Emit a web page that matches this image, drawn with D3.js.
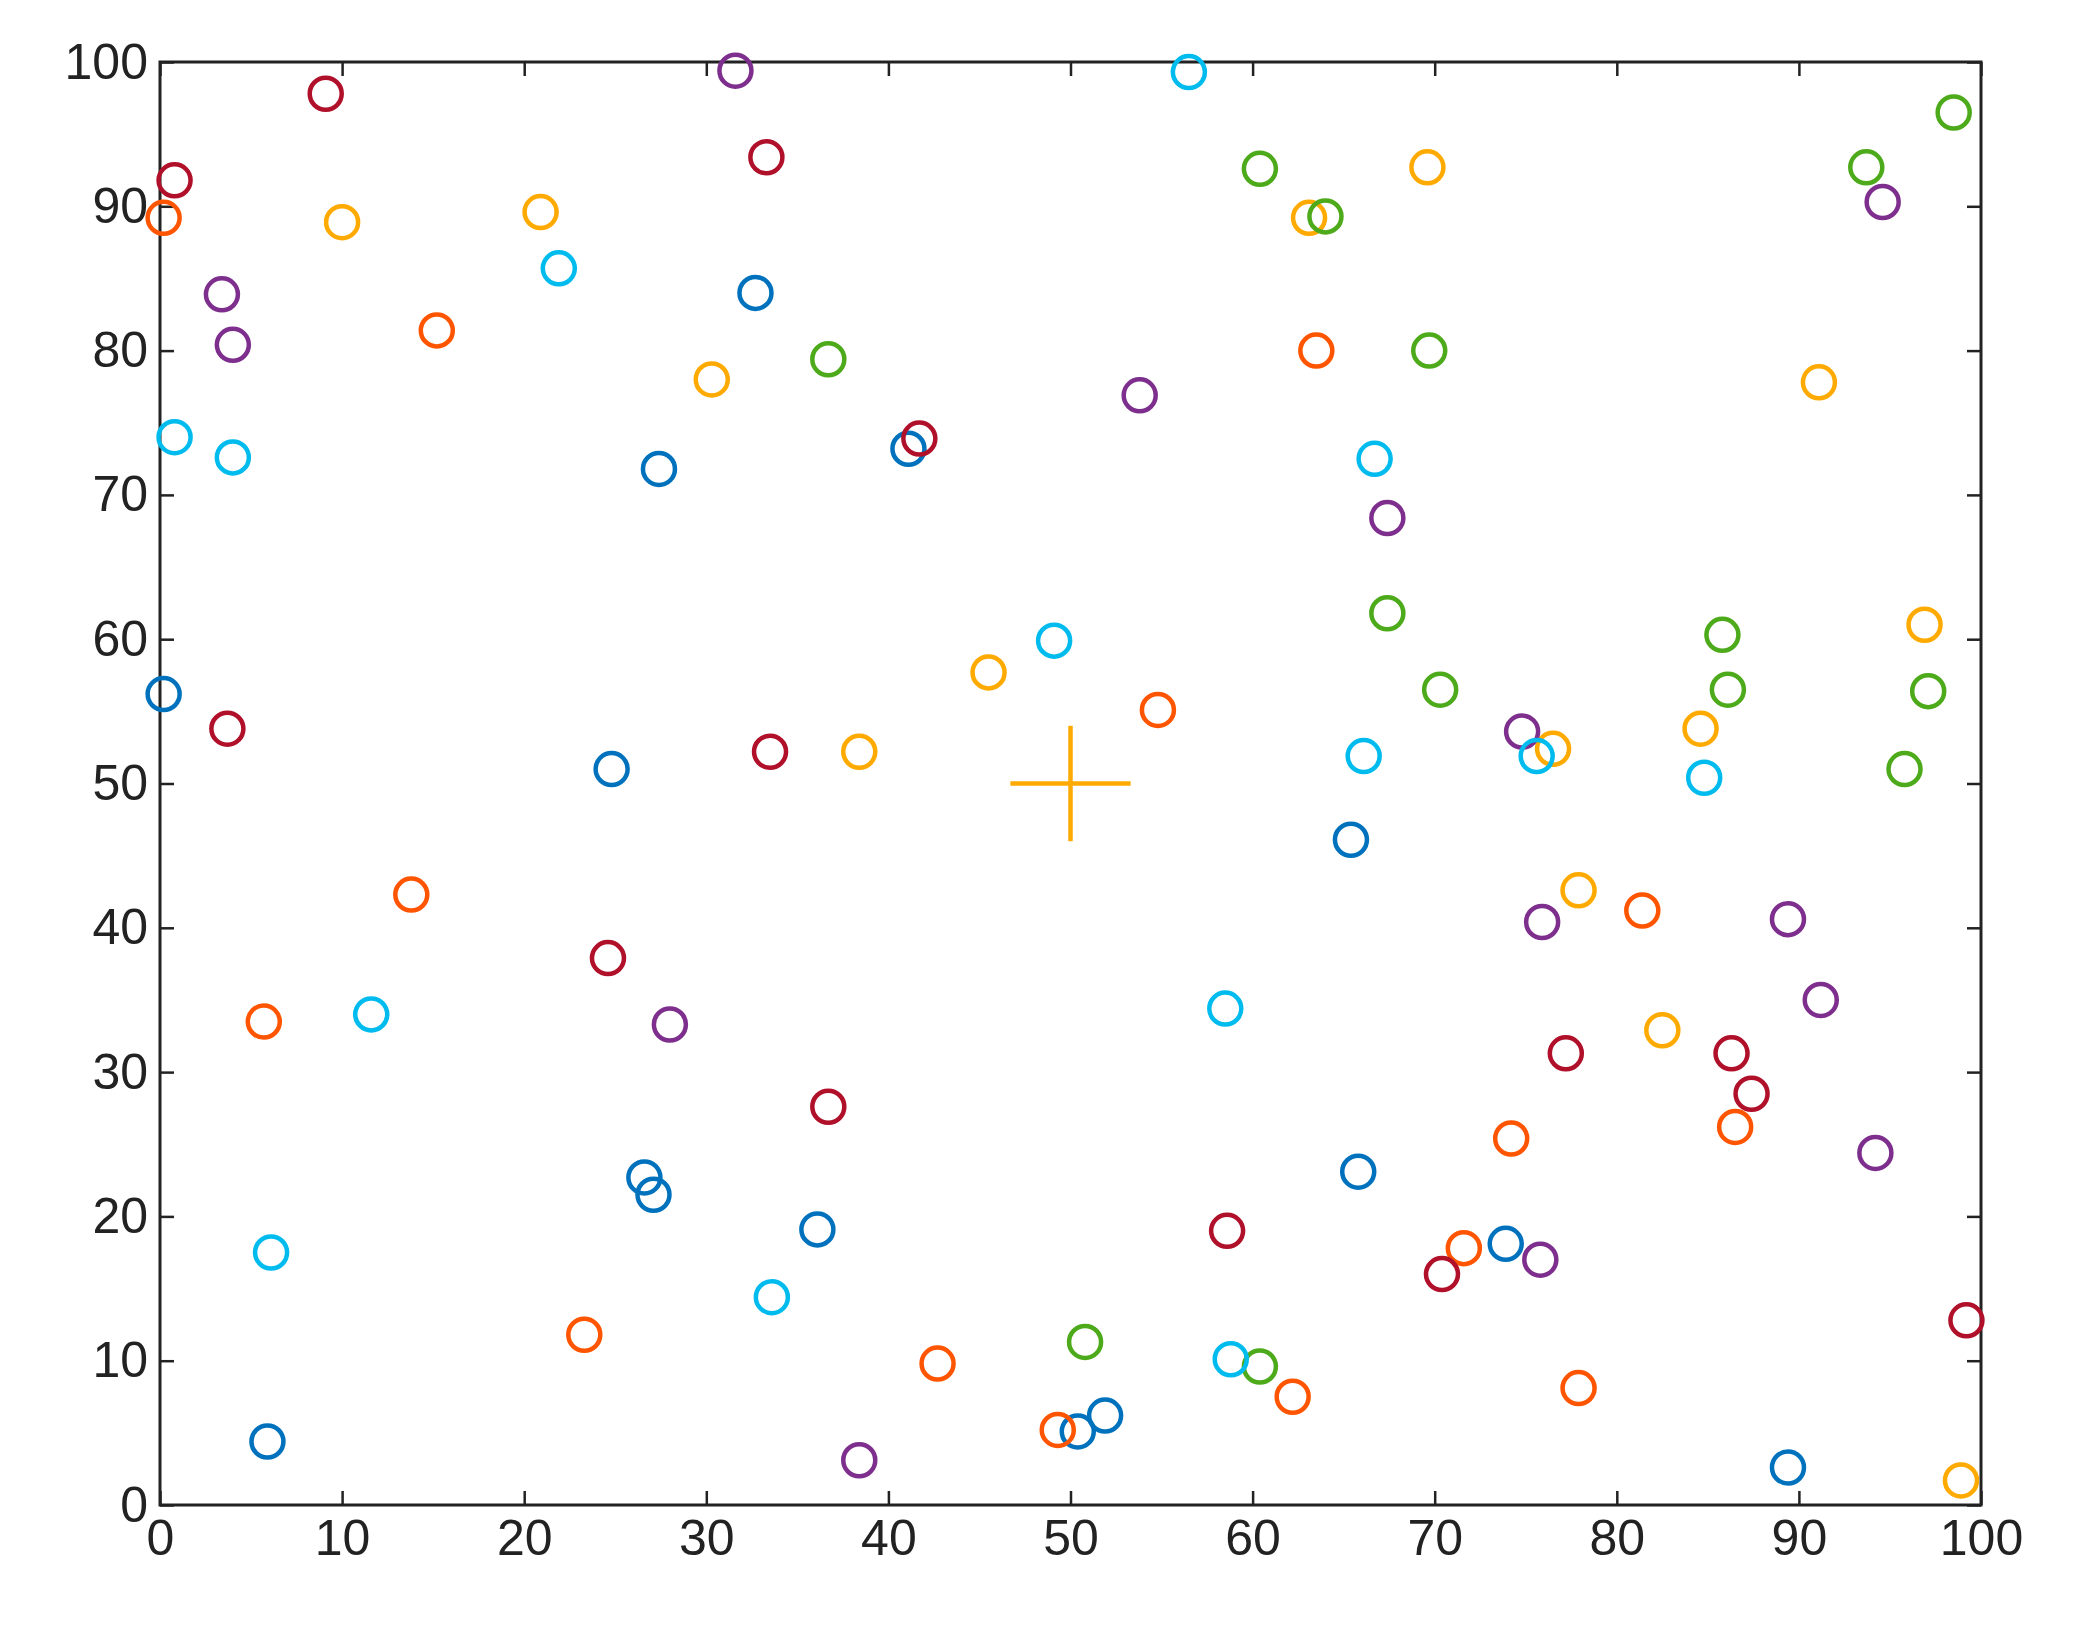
<!DOCTYPE html>
<html><head><meta charset="utf-8">
<script src="https://cdn.jsdelivr.net/npm/d3@7"></script>
<style>body{margin:0;background:#fff}svg{display:block}</style>
</head><body>
<script>
const ticks=[0,10,20,30,40,50,60,70,80,90,100];
const blue=[[0.2,56.2],[24.8,51],[27.4,71.8],[32.7,84],[41.1,73.2],[26.6,22.7],[27.1,21.5],[36.1,19.1],[5.9,4.4],[50.4,5.1],[51.9,6.2],[65.4,46.1],[65.8,23.1],[73.9,18.1],[89.4,2.6]];
const orange=[[0.2,89.2],[15.2,81.4],[13.8,42.3],[5.7,33.5],[23.3,11.8],[42.7,9.8],[49.3,5.2],[54.8,55.1],[62.2,7.5],[63.5,80],[71.6,17.8],[74.2,25.4],[77.9,8.1],[81.4,41.2],[86.5,26.2]];
const yellow=[[10,88.9],[20.9,89.6],[30.3,78],[38.4,52.2],[45.5,57.7],[63.1,89.2],[69.6,92.7],[76.5,52.4],[77.9,42.6],[82.5,32.9],[84.6,53.8],[91.1,77.8],[96.9,61],[98.9,1.7]];
const purple=[[3.4,83.9],[4,80.4],[31.6,99.4],[28,33.3],[38.4,3.1],[53.8,76.9],[67.4,68.4],[74.8,53.6],[75.9,40.4],[75.8,17],[89.4,40.6],[91.2,35],[94.2,24.4],[94.6,90.3]];
const green=[[36.7,79.4],[60.4,92.6],[64,89.3],[69.7,80],[67.4,61.8],[70.3,56.5],[50.8,11.3],[60.4,9.6],[85.8,60.3],[86.1,56.5],[93.7,92.7],[95.8,51],[97.1,56.4],[98.5,96.5]];
const cyan=[[0.8,74],[4,72.6],[21.9,85.7],[11.6,34],[6.1,17.5],[33.6,14.4],[49.1,59.9],[56.5,99.3],[58.5,34.4],[58.8,10.1],[66.1,51.9],[66.7,72.5],[75.6,51.9],[84.8,50.4]];
const red=[[0.8,91.8],[9.1,97.8],[3.7,53.8],[33.3,93.4],[33.5,52.2],[24.6,37.9],[36.7,27.6],[41.7,73.9],[58.6,19],[70.4,16],[77.2,31.3],[86.3,31.3],[87.4,28.5],[99.2,12.8]];
const center=[50,50];
const series=[[blue,"#0072BD"],[orange,"#FF5500"],[yellow,"#FFAA00"],[purple,"#7E2F8E"],[green,"#4DAA1A"],[cyan,"#00BCEE"],[red,"#B0102A"]];

const W=2074,H=1633,L=160,R=1981,T=62,B=1505;
const svg=d3.select("body").append("svg").attr("width",W).attr("height",H);
const x=d3.scaleLinear().domain([0,100]).range([L,R]);
const y=d3.scaleLinear().domain([0,100]).range([B,T]);
const font="Liberation Sans, Arial, sans-serif";
function style(g){g.select(".domain").remove();g.selectAll("line").attr("stroke","#222").attr("stroke-width",2.5);
 g.selectAll("text").attr("font-family",font).attr("font-size",50).attr("fill","#222");}
svg.append("g").attr("transform",`translate(0,${B})`).call(d3.axisBottom(x).tickValues(ticks).tickSize(-14).tickPadding(14)).call(style);
svg.append("g").attr("transform",`translate(0,${T})`).call(d3.axisTop(x).tickValues(ticks).tickSize(-14).tickFormat("")).call(style);
svg.append("g").attr("transform",`translate(${L},0)`).call(d3.axisLeft(y).tickValues(ticks).tickSize(-14).tickPadding(12)).call(style);
svg.append("g").attr("transform",`translate(${R},0)`).call(d3.axisRight(y).tickValues(ticks).tickSize(-14).tickFormat("")).call(style);
svg.append("rect").attr("x",L).attr("y",T).attr("width",R-L).attr("height",B-T).attr("fill","none").attr("stroke","#222").attr("stroke-width",3);
series.forEach(([d,c])=>{
 svg.append("g").selectAll("circle").data(d).join("circle").attr("cx",d=>x(d[0])).attr("cy",d=>y(d[1])).attr("r",16)
  .attr("fill","none").attr("stroke",c).attr("stroke-width",4.5);
});
svg.append("line").attr("x1",x(center[0]-3.3)).attr("x2",x(center[0]+3.3)).attr("y1",y(center[1])).attr("y2",y(center[1])).attr("stroke","#FFAA00").attr("stroke-width",4.5);
svg.append("line").attr("x1",x(center[0])).attr("x2",x(center[0])).attr("y1",y(center[1]-4)).attr("y2",y(center[1]+4)).attr("stroke","#FFAA00").attr("stroke-width",4.5);
</script>
</body></html>
